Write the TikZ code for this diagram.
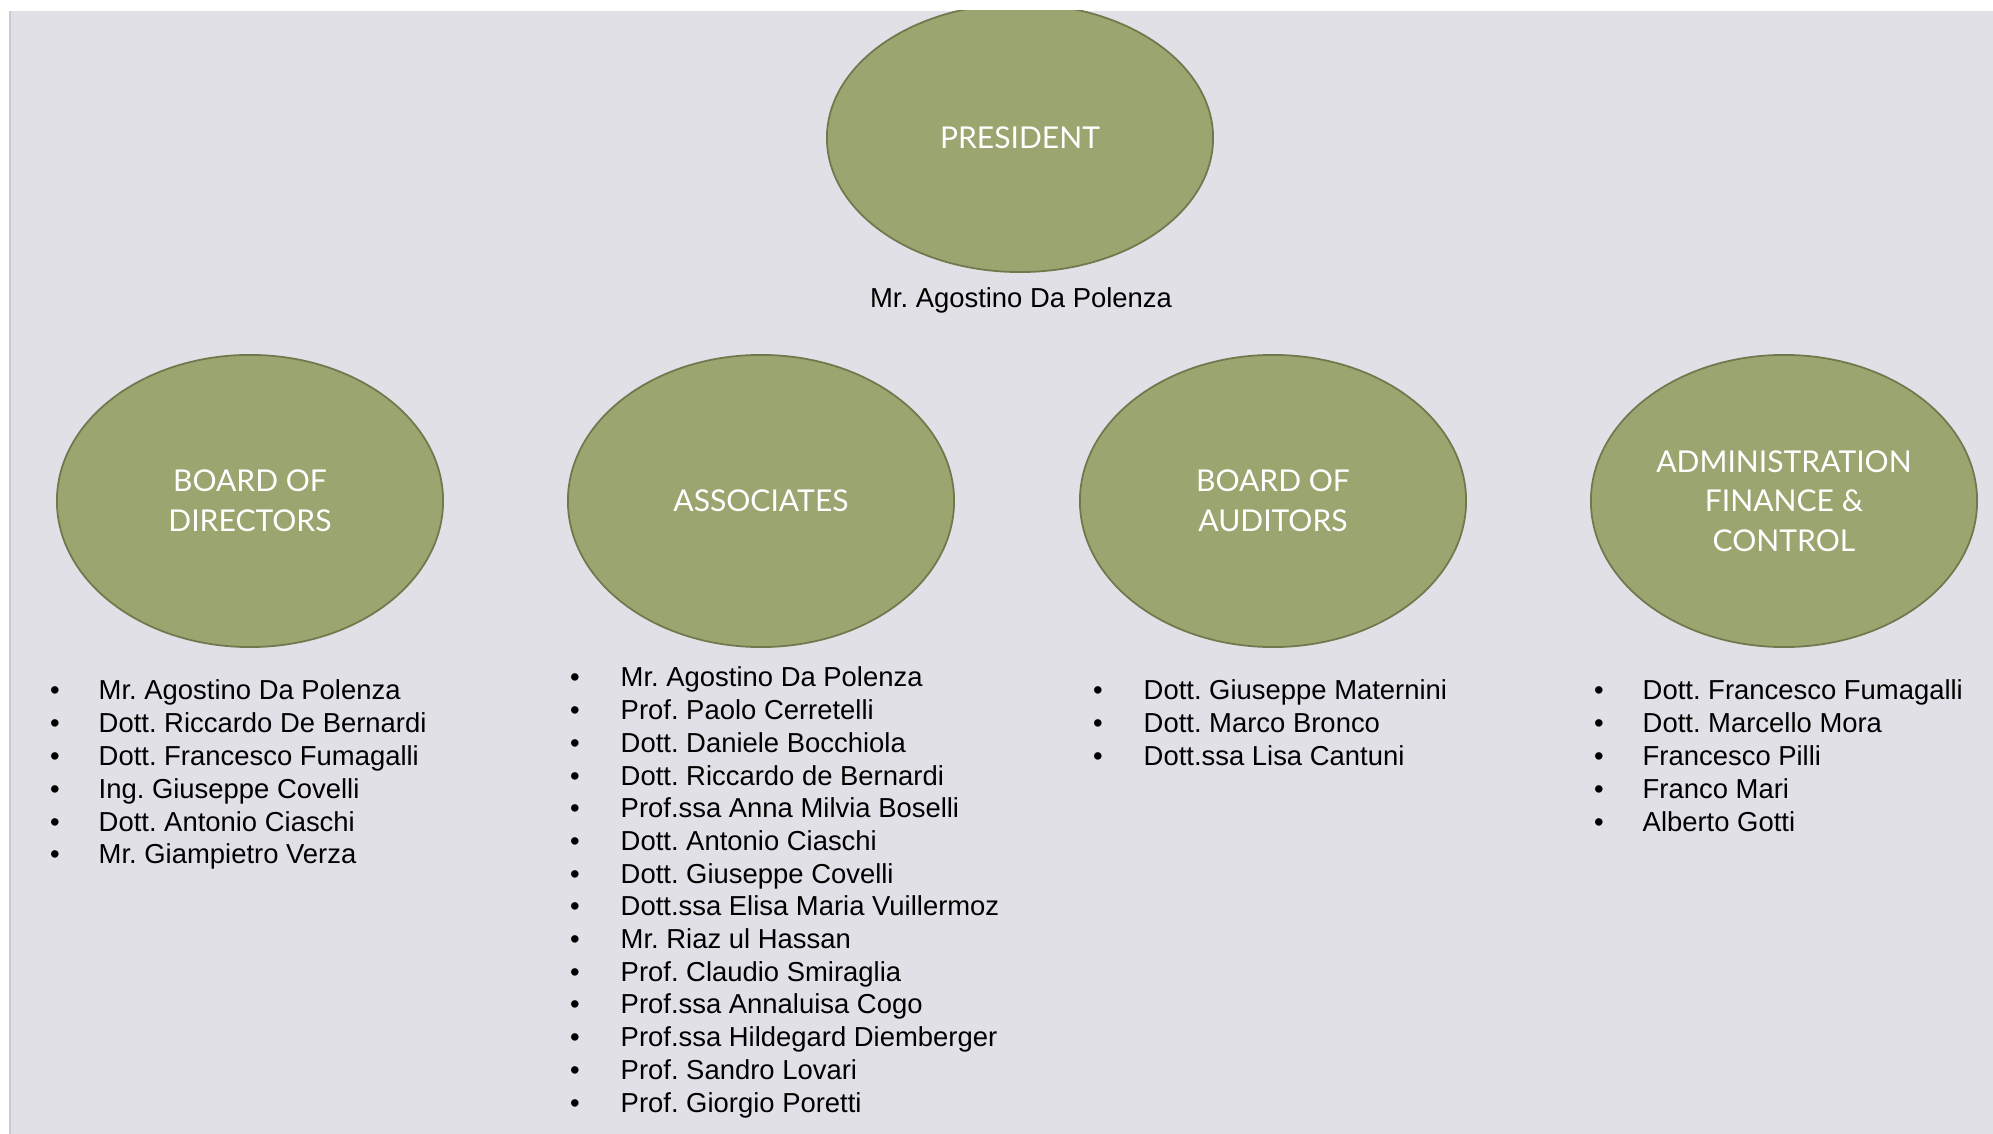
\documentclass[tikz,border=0pt]{standalone}
\usepackage{fontspec}
\setmainfont{Liberation Sans}
\newfontfamily\unitfont{Lato}
\usetikzlibrary{shapes.geometric}
\definecolor{chartbg}{RGB}{225,224,230}
\definecolor{chartedge}{RGB}{204,203,209}
\definecolor{unitolive}{RGB}{155,165,111}
\definecolor{unitrim}{RGB}{112,121,78}
\frenchspacing

\begin{document}
\begin{tikzpicture}[x=0.01cm, y=-0.01cm,
    unit/.style={ellipse, fill=unitolive, draw=unitrim, line width=0.5pt, inner sep=0pt,
      minimum width=3.86cm, minimum height=2.92cm, align=center, text=white,
      font=\unitfont\fontsize{8.55}{11.3}\selectfont},
    member/.style={anchor=base west, inner sep=0pt, font=\fontsize{7.8}{9.3}\selectfont},
    dot/.style={anchor=base, inner sep=0pt, font=\fontsize{7.8}{9.3}\selectfont}]
  \useasboundingbox (0,0) rectangle (1993,1134);
  % slide background
  \fill[chartbg] (9,11) rectangle (1993,1134);
  \draw[chartedge, line width=0.6pt] (10,11) -- (10,1134);

  % president, cut off by the top of the slide
  \begin{scope}
    \clip (9,11) rectangle (1993,1134);
    \node[unit, minimum height=2.68cm] (president) at (1020,138) {PRESIDENT};
  \end{scope}
  \node[member, anchor=base] (presname) at (1021,308) {Mr. Agostino Da Polenza};

  % second row of units
  \node[unit] (directors) at (250,501) {BOARD OF\\DIRECTORS};
  \node[unit] (associates) at (761,501) {ASSOCIATES};
  \node[unit] (auditors) at (1273,501) {BOARD OF\\AUDITORS};
  \node[unit] (admin) at (1784,501) {ADMINISTRATION\\FINANCE \&\\CONTROL};

  % members of each unit
  \foreach \who [count=\i] in {Mr. Agostino Da Polenza, Dott. Riccardo De Bernardi,
      Dott. Francesco Fumagalli, Ing. Giuseppe Covelli, Dott. Antonio Ciaschi,
      Mr. Giampietro Verza} {
    \node[dot] (dir-b\i) at (55, 667.2+32.8*\i) {\textbullet};
    \node[member] (dir-\i) at (98, 667.2+32.8*\i) {\who};
  }
  \foreach \who [count=\i] in {Mr. Agostino Da Polenza, Prof. Paolo Cerretelli,
      Dott. Daniele Bocchiola, Dott. Riccardo de Bernardi, Prof.ssa Anna Milvia Boselli,
      Dott. Antonio Ciaschi, Dott. Giuseppe Covelli, Dott.ssa Elisa Maria Vuillermoz,
      Mr. Riaz ul Hassan, Prof. Claudio Smiraglia, Prof.ssa Annaluisa Cogo,
      Prof.ssa Hildegard Diemberger, Prof. Sandro Lovari, Prof. Giorgio Poretti} {
    \node[dot] (ass-b\i) at (575, 654.3+32.7*\i) {\textbullet};
    \node[member] (ass-\i) at (620, 654.3+32.7*\i) {\who};
  }
  \foreach \who [count=\i] in {Dott. Giuseppe Maternini, Dott. Marco Bronco,
      Dott.ssa Lisa Cantuni} {
    \node[dot] (aud-b\i) at (1098, 667.2+32.8*\i) {\textbullet};
    \node[member] (aud-\i) at (1143, 667.2+32.8*\i) {\who};
  }
  \foreach \who [count=\i] in {Dott. Francesco Fumagalli, Dott. Marcello Mora,
      Francesco Pilli, Franco Mari, Alberto Gotti} {
    \node[dot] (adm-b\i) at (1599, 667.2+32.8*\i) {\textbullet};
    \node[member] (adm-\i) at (1642, 667.2+32.8*\i) {\who};
  }
\end{tikzpicture}
\end{document}
